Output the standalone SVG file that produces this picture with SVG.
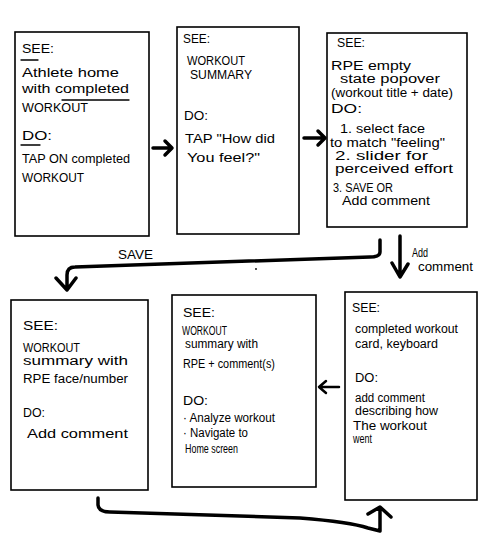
<svg xmlns="http://www.w3.org/2000/svg" width="486" height="548" viewBox="0 0 486 548">
<style>
.box{fill:#fff;stroke:#000;stroke-width:1.6}
text{font-family:"Liberation Sans",Arial,sans-serif;fill:#000;font-size:12px}
.c{fill:none;stroke:#000;stroke-width:3.5;stroke-linecap:round;stroke-linejoin:round}
.t{fill:none;stroke:#000;stroke-width:1.3;stroke-linecap:round}
</style>
<rect width="486" height="548" fill="#fff"/>
<g id="node1">
<rect class="box" x="15" y="32" width="134" height="204"/>
<text x="22" y="53" font-size="12" textLength="32" lengthAdjust="spacingAndGlyphs">SEE:</text>
<line class="t" x1="21" y1="60" x2="38" y2="60"/>
<text x="22" y="77" font-size="15" textLength="97" lengthAdjust="spacingAndGlyphs">Athlete home</text>
<text x="22" y="93" font-size="15" textLength="107" lengthAdjust="spacingAndGlyphs">with completed</text>
<line class="t" x1="62" y1="100" x2="129" y2="100"/>
<text x="22" y="112" font-size="11" textLength="66" lengthAdjust="spacingAndGlyphs">WORKOUT</text>
<text x="22" y="140" font-size="13" textLength="30" lengthAdjust="spacingAndGlyphs">DO:</text>
<line class="t" x1="21" y1="145" x2="40" y2="145"/>
<text x="22" y="163" font-size="12.5" textLength="108" lengthAdjust="spacingAndGlyphs">TAP ON completed</text>
<text x="22" y="182" font-size="12" textLength="62" lengthAdjust="spacingAndGlyphs">WORKOUT</text>
</g>
<g id="node2">
<rect class="box" x="177" y="27" width="122" height="207"/>
<text x="183" y="43" font-size="11" textLength="27" lengthAdjust="spacingAndGlyphs">SEE:</text>
<text x="187" y="65" font-size="11" textLength="58" lengthAdjust="spacingAndGlyphs">WORKOUT</text>
<text x="190" y="79" font-size="12" textLength="62" lengthAdjust="spacingAndGlyphs">SUMMARY</text>
<text x="184" y="120" font-size="12" textLength="24" lengthAdjust="spacingAndGlyphs">DO:</text>
<text x="185" y="143" font-size="14" textLength="90" lengthAdjust="spacingAndGlyphs">TAP "How did</text>
<text x="187" y="162" font-size="14" textLength="73" lengthAdjust="spacingAndGlyphs">You feel?"</text>
</g>
<g id="node3">
<rect class="box" x="327" y="33" width="140" height="194"/>
<text x="337" y="47" font-size="11" textLength="28" lengthAdjust="spacingAndGlyphs">SEE:</text>
<text x="331" y="70" font-size="14.5" textLength="80" lengthAdjust="spacingAndGlyphs">RPE empty</text>
<text x="340" y="83" font-size="14.5" textLength="100" lengthAdjust="spacingAndGlyphs">state popover</text>
<text x="331" y="97" font-size="12" textLength="122" lengthAdjust="spacingAndGlyphs">(workout title + date)</text>
<text x="331" y="113" font-size="13" textLength="31" lengthAdjust="spacingAndGlyphs">DO:</text>
<text x="340" y="133" font-size="13" textLength="85" lengthAdjust="spacingAndGlyphs">1. select face</text>
<text x="330" y="147" font-size="13.5" textLength="115" lengthAdjust="spacingAndGlyphs">to match "feeling"</text>
<text x="335" y="160" font-size="14" textLength="93" lengthAdjust="spacingAndGlyphs">2. slider for</text>
<text x="335" y="173" font-size="15" textLength="118" lengthAdjust="spacingAndGlyphs">perceived effort</text>
<text x="333" y="192" font-size="11" textLength="60" lengthAdjust="spacingAndGlyphs">3. SAVE OR</text>
<text x="342" y="205" font-size="14" textLength="88" lengthAdjust="spacingAndGlyphs">Add comment</text>
</g>
<g id="node4">
<rect class="box" x="11" y="300" width="137" height="190"/>
<text x="23" y="330" font-size="13" textLength="35" lengthAdjust="spacingAndGlyphs">SEE:</text>
<text x="23" y="352" font-size="11" textLength="57" lengthAdjust="spacingAndGlyphs">WORKOUT</text>
<text x="23" y="365" font-size="14" textLength="105" lengthAdjust="spacingAndGlyphs">summary with</text>
<text x="23" y="383" font-size="13" textLength="105" lengthAdjust="spacingAndGlyphs">RPE face/number</text>
<text x="23" y="417" font-size="12" textLength="22" lengthAdjust="spacingAndGlyphs">DO:</text>
<text x="27" y="438" font-size="14.5" textLength="101" lengthAdjust="spacingAndGlyphs">Add comment</text>
</g>
<g id="node5">
<rect class="box" x="172" y="295" width="144" height="192"/>
<text x="183" y="317" font-size="13" textLength="32" lengthAdjust="spacingAndGlyphs">SEE:</text>
<text x="182" y="335" font-size="9.5" textLength="45" lengthAdjust="spacingAndGlyphs">WORKOUT</text>
<text x="185" y="348" font-size="12" textLength="73" lengthAdjust="spacingAndGlyphs">summary with</text>
<text x="183" y="368" font-size="10.5" textLength="92" lengthAdjust="spacingAndGlyphs">RPE + comment(s)</text>
<text x="183" y="405" font-size="12" textLength="25" lengthAdjust="spacingAndGlyphs">DO:</text>
<text x="183" y="422" font-size="11.5" textLength="92" lengthAdjust="spacingAndGlyphs">· Analyze workout</text>
<text x="183" y="437" font-size="11.5" textLength="65" lengthAdjust="spacingAndGlyphs">· Navigate to</text>
<text x="185" y="453" font-size="10" textLength="53" lengthAdjust="spacingAndGlyphs">Home screen</text>
</g>
<g id="node6">
<rect class="box" x="345" y="292" width="132" height="208"/>
<text x="352" y="312" font-size="12" textLength="28" lengthAdjust="spacingAndGlyphs">SEE:</text>
<text x="355" y="333" font-size="12" textLength="103" lengthAdjust="spacingAndGlyphs">completed workout</text>
<text x="355" y="348" font-size="12.5" textLength="83" lengthAdjust="spacingAndGlyphs">card, keyboard</text>
<text x="355" y="382" font-size="12" textLength="23" lengthAdjust="spacingAndGlyphs">DO:</text>
<text x="355" y="402" font-size="12" textLength="70" lengthAdjust="spacingAndGlyphs">add comment</text>
<text x="355" y="415" font-size="12.5" textLength="83" lengthAdjust="spacingAndGlyphs">describing how</text>
<text x="353" y="430" font-size="13" textLength="74" lengthAdjust="spacingAndGlyphs">The workout</text>
<text x="353" y="443" font-size="10" textLength="19" lengthAdjust="spacingAndGlyphs">went</text>
</g>
<g id="connectors">
<path class="c" d="M153,148 L171,148 M165,141 L172,148 L165,155"/>
<path class="c" d="M304,138 L324,138 M318,131 L325,138 L318,145"/>
<path class="c" d="M380,240 L380,252 Q380,257 370,257 L75,267 Q67,267 67,275 L67,289 M56,278 L67,290 L76,278"/>
<path class="c" d="M400,236 L400,276 M392,263 L400,277 L408,264"/>
<path class="c" style="stroke-width:2.5" d="M339,387 L320,387 M326,381 L319,387 L326,393"/>
<path class="c" d="M98,498 L98,505 Q99,512 110,512 L300,518 Q350,522 368,528 L380,531 L380,509 M368,514 L380,507 L391,517"/>
<circle cx="256" cy="269" r="0.9" fill="#000"/>
<text x="118" y="259" font-size="12" textLength="35" lengthAdjust="spacingAndGlyphs">SAVE</text>
<text x="412" y="257" font-size="10" textLength="16" lengthAdjust="spacingAndGlyphs">Add</text>
<text x="418" y="271" font-size="13" textLength="55" lengthAdjust="spacingAndGlyphs">comment</text>
</g>
</svg>
